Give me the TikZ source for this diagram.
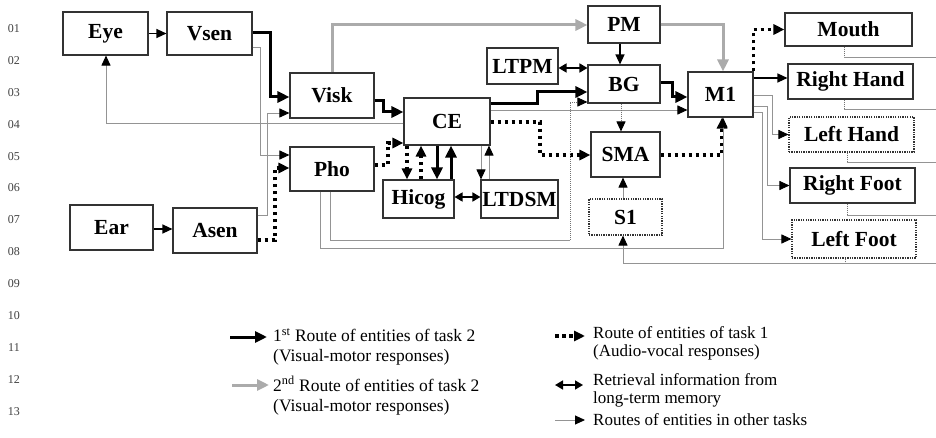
\documentclass[tikz,border=0pt]{standalone}
\usepackage{fontspec}
\setmainfont{Liberation Serif}
\usetikzlibrary{arrows.meta,calc}

\begin{document}
\begin{tikzpicture}[x=1pt,y=-1pt,
  box/.style={draw=black!80,line width=1.1pt,fill=white,inner sep=0pt,
    font=\bfseries\fontsize{21.5}{21.5}\selectfont},
  dbox/.style={box,dash pattern=on 1.3pt off 1.1pt},
  lnum/.style={font=\fontsize{12}{12}\selectfont,text=black!75,inner sep=0pt},
  legA/.style={font=\fontsize{17.5}{20}\selectfont,align=left,anchor=west,inner sep=0pt},
  legB/.style={font=\fontsize{17}{18}\selectfont,align=left,anchor=west,inner sep=0pt},
  grayline/.style={draw=black!42,line width=0.9pt},
  grayarr/.style={grayline,-{Triangle[length=10pt,width=9pt,color=black]}},
  finedot/.style={draw=black!55,line width=0.9pt,dash pattern=on 1pt off 1pt},
  finedotarr/.style={finedot,-{Triangle[length=10pt,width=9pt,color=black]}},
  blkarr/.style={draw=black,line width=1.3pt,-{Triangle[length=10pt,width=9pt]}},
  heavy/.style={draw=black,line width=3pt,-{Triangle[length=12pt,width=11pt]}},
  heavygray/.style={draw=black!33,line width=3pt,-{Triangle[length=12pt,width=11pt]}},
  dotarr/.style={draw=black,line width=3.5pt,dash pattern=on 3.5pt off 3.5pt,
    -{Triangle[length=11pt,width=10pt]}},
  twoway/.style={draw=black,line width=1.6pt,
    {Triangle[length=8pt,width=9pt]}-{Triangle[length=8pt,width=9pt]}},
]
\useasboundingbox (0,0) rectangle (936,438);
\fill[white] (0,0) rectangle (936,438);

% line numbers in the margin
\foreach \n [count=\i from 0] in {01,02,03,04,05,06,07,08,09,10,11,12,13}
  \node[lnum] (ln\n) at (14,28.3+31.95*\i) {\n};

% sensory side
\node[box,minimum width=85,minimum height=43] (eye)  at (105.5,33.5) {Eye};
\node[box,minimum width=85,minimum height=43] (vsen) at (209.5,33.5) {Vsen};
\node[box,minimum width=83,minimum height=45] (ear)  at (111.5,227.5) {Ear};
\node[box,minimum width=84,minimum height=45] (asen) at (215,230.5) {Asen};
\node[box,minimum width=84,minimum height=45] (visk) at (332,95.5) {Visk};
\node[box,minimum width=84,minimum height=44] (pho)  at (332,169) {Pho};

% central processing
\node[box,minimum width=86,minimum height=47] (ce)    at (447,121.5) {CE};
\node[box,minimum width=71,minimum height=38] (hicog) at (418.5,199) {Hicog};
\node[box,minimum width=77,minimum height=38] (ltdsm) at (519.5,199) {LTDSM};
\node[box,minimum width=71,minimum height=36] (ltpm)  at (522.5,66) {LTPM};

% motor areas
\node[box,minimum width=72,minimum height=37]  (pm)  at (624,24.5) {PM};
\node[box,minimum width=72,minimum height=38]  (bg)  at (624,84) {BG};
\node[box,minimum width=69,minimum height=45]  (sma) at (625.5,154.5) {SMA};
\node[dbox,minimum width=73,minimum height=36] (s1)  at (625.5,217) {S1};
\node[box,minimum width=65,minimum height=45]  (m1)  at (720.5,94.5) {M1};

% effectors
\node[box,minimum width=127,minimum height=33]  (mouth) at (848.5,29.5) {Mouth};
\node[box,minimum width=125,minimum height=35]  (rhand) at (850.5,81.5) {Right Hand};
\node[dbox,minimum width=125,minimum height=35] (lhand) at (851.5,134.5) {Left Hand};
\node[box,minimum width=125,minimum height=35]  (rfoot) at (852.5,185.5) {Right Foot};
\node[dbox,minimum width=124,minimum height=38] (lfoot) at (854,239) {Left Foot};

% --- sensory connections
\draw[blkarr] (eye) -- (vsen);
\draw[blkarr] (ear.east |- 0,229) -- (asen.west |- 0,229);
\draw[heavy] (vsen.east |- 0,33) -- (270,33) -- (270,97) -- (visk.west |- 0,97);
\draw[grayarr] (vsen.east |- 0,47) -- (260,47) -- (260,155) -- (pho.west |- 0,155);
\draw[grayarr] (asen.east |- 0,215) -- (267,215) -- (267,113) -- (visk.west |- 0,113);
\draw[dotarr] (asen.east |- 0,240) -- (275,240) -- (275,168) -- (pho.west |- 0,168);
\draw[grayarr] (ce.west |- 0,123) -- (106,123) -- (eye.south -| 106,0);

% --- second route (grey)
\draw[heavygray] (visk.north) -- (332,25) -- (pm.west |- 0,25);
\draw[heavygray] (pm.east |- 0,25) -- (723,25) -- (m1.north -| 723,0);

% --- first route (black)
\draw[heavy] (visk.east |- 0,101) -- (383,101) -- (383,112) -- (ce.west |- 0,112);
\draw[heavy] (ce.east |- 0,104) -- (537,104) -- (537,92) -- (bg.west |- 0,92);
\draw[heavy] (bg.east |- 0,83) -- (672,83) -- (672,97) -- (m1.west |- 0,97);

% --- task 1 route (dotted)
\draw[dotarr] (pho.east |- 0,165) -- (388,165) -- (388,143) -- (ce.west |- 0,143);
\draw[dotarr] (ce.east |- 0,122) -- (540,122) -- (540,155) -- (sma.west |- 0,155);
\draw[dotarr] (sma.east |- 0,155) -- (722,155) -- (m1.south -| 722,0);
\draw[dotarr] (m1.north east) |- (mouth.west);

% --- CE with the memories
\draw[dotarr] (ce.south -| 407,0) -- (hicog.north -| 407,0);
\draw[dotarr] (hicog.north -| 421,0) -- (ce.south -| 421,0);
\draw[heavy] (ce.south -| 437,0) -- (hicog.north -| 437,0);
\draw[heavy] (hicog.north -| 451,0) -- (ce.south -| 451,0);
\draw[grayarr] (ce.south -| 481,0) -- (ltdsm.north -| 481,0);
\draw[grayarr] (ltdsm.north -| 489,0) -- (ce.south -| 489,0);
\draw[twoway] (hicog.east |- 0,197) -- (ltdsm.west |- 0,197);
\draw[twoway] (ltpm.east |- 0,68) -- (bg.west |- 0,68);

% --- other task routes
\draw[grayarr] (ce.east |- 0,110) -- (m1.west |- 0,110);
\draw[blkarr] (pm.south -| 620,0) -- (bg.north -| 620,0);
\draw[finedotarr] (bg.south -| 621,0) -- (sma.north -| 621,0);
\draw[grayarr] (s1.north -| 623,0) -- (sma.south -| 623,0);
\coordinate (j1) at (570,240);
\draw[grayline] (pho.south -| 330,0) -- (330,240) -- (j1);
\draw[finedotarr] (j1) -- (570,102) -- (bg.west |- 0,102);
\draw[grayarr] (pho.south -| 320,0) -- (320,248) -- (723,248) -- (m1.south -| 723,0);

% --- M1 to the effectors
\draw[blkarr] (m1.east |- 0,78) -- (rhand.west |- 0,78);
\draw[grayarr] (m1.east |- 0,95) -- (772,95) |- (lhand.west);
\draw[grayarr] (m1.east |- 0,106) -- (767,106) |- (rfoot.west);
\draw[grayarr] (m1.east |- 0,112) -- (762,112) |- (lfoot.west);

% --- feedback leaving the effectors
\coordinate (e1) at (936,57);
\coordinate (e2) at (936,109);
\coordinate (e3) at (936,162);
\coordinate (e4) at (936,215);
\coordinate (e5) at (936,263);
\draw[finedot] (mouth.south -| 844,0) -- (844,57);
\draw[grayline] (844,57) -- (e1);
\draw[finedot] (rhand.south -| 844,0) -- (844,109);
\draw[grayline] (844,109) -- (e2);
\draw[finedot] (lhand.south -| 847,0) -- (847,162);
\draw[grayline] (847,162) -- (e3);
\draw[finedot] (rfoot.south -| 847,0) -- (847,215);
\draw[grayline] (847,215) -- (e4);
\draw[finedot] (lfoot.south -| 845,0) -- (845,263);
\draw[grayarr] (e5) -- (623,263) -- (s1.south -| 623,0);

% --- legend
\node[legA] (lg1) at (273,347) {1\textsuperscript{st} Route of entities of task 2\\(Visual-motor responses)};
\node[legA] (lg2) at (273,395.5) {2\textsuperscript{nd} Route of entities of task 2\\(Visual-motor responses)};
\node[legB] (lg3) at (593,343.5) {Route of entities of task 1\\(Audio-vocal responses)};
\node[legB] (lg4) at (593,390) {Retrieval information from\\long-term memory};
\node[legB] (lg5) at (593,420) {Routes of entities in other tasks};
\coordinate (k1) at (230,337);
\coordinate (k2) at (232,385);
\coordinate (k3) at (555,336);
\coordinate (k4) at (555,385);
\coordinate (k5) at (555,420);
\draw[heavy] (k1) -- ([xshift=-6pt]k1 -| lg1.west);
\draw[heavygray] (k2) -- ([xshift=-4pt]k2 -| lg2.west);
\draw[dotarr] (k3) -- ([xshift=-8pt]k3 -| lg3.west);
\draw[twoway] (k4) -- ([xshift=-10pt]k4 -| lg4.west);
\draw[grayarr] (k5) -- ([xshift=-8pt]k5 -| lg5.west);
\end{tikzpicture}
\end{document}
